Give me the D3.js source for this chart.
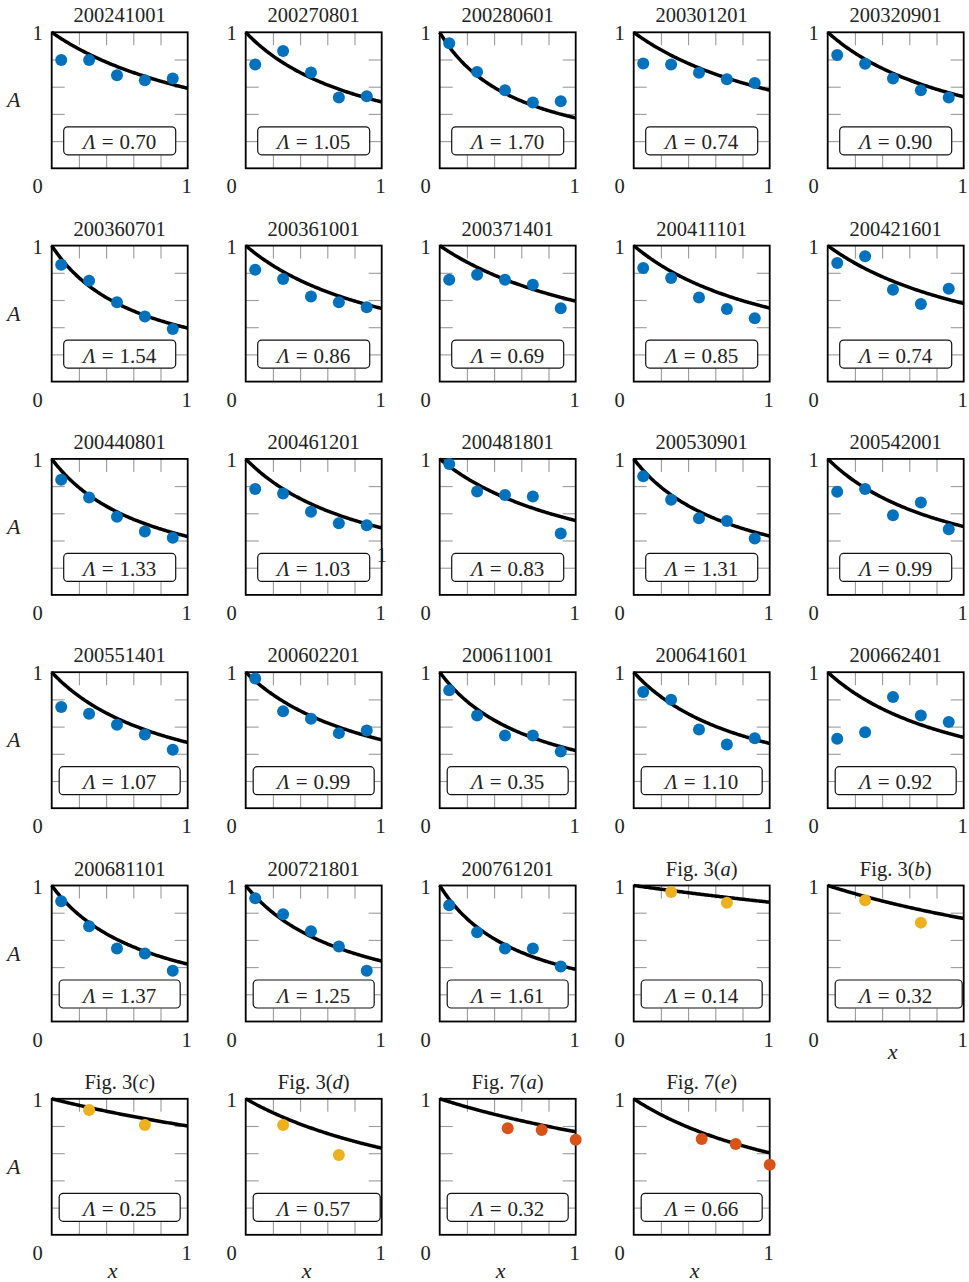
<!DOCTYPE html>
<html>
<head>
<meta charset="utf-8">
<script src="https://cdn.jsdelivr.net/npm/d3@7/dist/d3.min.js"></script>
<style>
  body { margin: 0; background: #fff; }
  text { font-family: 'Liberation Serif', 'DejaVu Serif', serif; fill: #222; }
</style>
</head>
<body>
<div id="chart"></div>
<script>
const titles = [
  '200241001', '200270801', '200280601', '200301201', '200320901',
  '200360701', '200361001', '200371401', '200411101', '200421601',
  '200440801', '200461201', '200481801', '200530901', '200542001',
  '200551401', '200602201', '200611001', '200641601', '200662401',
  '200681101', '200721801', '200761201', 'Fig. 3(a)', 'Fig. 3(b)',
  'Fig. 3(c)', 'Fig. 3(d)', 'Fig. 7(a)', 'Fig. 7(e)'
]

// value printed in each box
const lambdaLabel = [
  0.70, 1.05, 1.70, 0.74, 0.90,
  1.54, 0.86, 0.69, 0.85, 0.74,
  1.33, 1.03, 0.83, 1.31, 0.99,
  1.07, 0.99, 0.35, 1.10, 0.92,
  1.37, 1.25, 1.61, 0.14, 0.32,
  0.25, 0.57, 0.32, 0.66
]

// value the drawn curve uses (differs from the label in 200611001)
const lambdaFit = [
  0.70, 1.05, 1.70, 0.74, 0.90,
  1.54, 0.86, 0.69, 0.85, 0.74,
  1.33, 1.03, 0.83, 1.31, 0.99,
  1.07, 0.99, 1.36, 1.10, 0.92,
  1.37, 1.25, 1.61, 0.14, 0.32,
  0.25, 0.57, 0.32, 0.66
]

const sources = [
  ...Array(23).fill('field'),
  'fig3', 'fig3', 'fig3', 'fig3',
  'fig7', 'fig7'
]

const fieldX = [0.07, 0.275, 0.48, 0.685, 0.89]
const fig3X = [0.275, 0.685]
const fig7X = [0.5, 0.75, 1.0]

const pointA = [
  [0.796, 0.796, 0.685, 0.648, 0.660],
  [0.764, 0.862, 0.704, 0.520, 0.530],
  [0.919, 0.709, 0.574, 0.483, 0.493],
  [0.771, 0.764, 0.702, 0.655, 0.628],
  [0.833, 0.768, 0.660, 0.574, 0.520],
  [0.860, 0.741, 0.584, 0.478, 0.387],
  [0.823, 0.754, 0.626, 0.584, 0.547],
  [0.749, 0.786, 0.749, 0.712, 0.539],
  [0.835, 0.761, 0.618, 0.534, 0.466],
  [0.872, 0.921, 0.675, 0.571, 0.682],
  [0.847, 0.717, 0.574, 0.466, 0.421],
  [0.778, 0.746, 0.611, 0.527, 0.512],
  [0.963, 0.761, 0.734, 0.724, 0.451],
  [0.872, 0.700, 0.564, 0.544, 0.414],
  [0.759, 0.778, 0.586, 0.680, 0.483],
  [0.744, 0.695, 0.613, 0.542, 0.429],
  [0.953, 0.712, 0.658, 0.552, 0.571],
  [0.867, 0.682, 0.534, 0.534, 0.416],
  [0.855, 0.798, 0.579, 0.468, 0.515],
  [0.510, 0.559, 0.818, 0.682, 0.633],
  [0.884, 0.700, 0.537, 0.500, 0.374],
  [0.907, 0.788, 0.663, 0.552, 0.374],
  [0.855, 0.656, 0.537, 0.537, 0.404],
  [0.953, 0.874],
  [0.891, 0.727],
  [0.917, 0.808],
  [0.808, 0.586],
  [0.783, 0.771, 0.699],
  [0.705, 0.668, 0.515]
]

const axisTicks = [0, 0.2, 0.4, 0.6, 0.8, 1]

const WIDTH = 969
const HEIGHT = 1282
const COLS = 5
const LEFT0 = 51.7
const COL_STEP = 194
const TOP0 = 32.3
const ROW_STEP = 213.3
const SIZE = 136
const TICK = 13

const colorOf = { field: '#0072BD', fig3: '#EDB120', fig7: '#D95319' }
const xsOf = { field: fieldX, fig3: fig3X, fig7: fig7X }

const svg = d3.select('#chart').append('svg')
                               .attr('width', WIDTH)
                               .attr('height', HEIGHT)

const x = d3.scaleLinear().domain([0, 1]).range([0, SIZE])
const y = d3.scaleLinear().domain([0, 1]).range([SIZE, 0])
const inner = axisTicks.filter(t => t > 0 && t < 1)
const lastRow = Math.floor((titles.length - 1) / COLS)

const line = d3.line()
               .x(d => x(d[0]))
               .y(d => y(d[1]))

const cleanAxis = a => {
  a.select('.domain').remove()
  a.selectAll('line').attr('stroke', '#9a9a9a').attr('stroke-width', 1.1)
}

const writeTitle = (g, t) => {
  const text = g.append('text')
                .attr('x', SIZE / 2)
                .attr('y', -10)
                .attr('text-anchor', 'middle')
                .attr('font-size', 20.5)
  const m = t.match(/^(Fig\. \d\()(\w)(\))$/)
  if (m) {
    text.append('tspan').text(m[1])
    text.append('tspan').attr('font-style', 'italic').text(m[2])
    text.append('tspan').text(m[3])
  } else {
    text.text(t)
  }
}

titles.forEach((t, i) => {
  const col = i % COLS
  const row = Math.floor(i / COLS)
  const left = LEFT0 + col * COL_STEP
  const top = TOP0 + row * ROW_STEP
  const g = svg.append('g')
               .attr('class', 'panel')
               .attr('transform', `translate(${left},${top})`)

  writeTitle(g, t)

  g.append('g').call(d3.axisTop(x).tickValues(inner).tickSize(-TICK).tickFormat('')).call(cleanAxis)
  g.append('g').attr('transform', `translate(0,${SIZE})`)
     .call(d3.axisBottom(x).tickValues(inner).tickSize(-TICK).tickFormat('')).call(cleanAxis)
  g.append('g').call(d3.axisLeft(y).tickValues(inner).tickSize(-TICK).tickFormat('')).call(cleanAxis)
  g.append('g').attr('transform', `translate(${SIZE},0)`)
     .call(d3.axisRight(y).tickValues(inner).tickSize(-TICK).tickFormat('')).call(cleanAxis)

  // legend box
  const boxLeft = row < 3 ? 12 : 7.5
  const boxW = row < 3 ? 112 : (t === 'Fig. 3(b)' || t === 'Fig. 3(d)' ? 127 : 121)
  g.append('rect')
     .attr('x', boxLeft)
     .attr('y', 94.5)
     .attr('width', boxW)
     .attr('height', 28)
     .attr('rx', 4)
     .attr('fill', '#fff')
     .attr('stroke', '#111')
     .attr('stroke-width', 1.2)
  const lt = g.append('text')
                .attr('x', SIZE / 2)
                .attr('y', 117)
                .attr('text-anchor', 'middle')
                .attr('font-size', 21)
  lt.append('tspan').attr('font-style', 'italic').text('\u039B')
  lt.append('tspan').attr('dx', 6).text('=')
  lt.append('tspan').attr('dx', 6).text(lambdaLabel[i].toFixed(2))

  // fitted curve A = 1 / (1 + Λx)
  const lam = lambdaFit[i]
  const curve = d3.range(0, 1.0001, 0.01).map(v => [v, 1 / (1 + lam * v)])
  g.append('path')
     .attr('d', line(curve))
     .attr('fill', 'none')
     .attr('stroke', '#000')
     .attr('stroke-width', 3.5)

  g.append('rect')
     .attr('width', SIZE)
     .attr('height', SIZE)
     .attr('fill', 'none')
     .attr('stroke', '#000')
     .attr('stroke-width', 1.8)

  const xs = xsOf[sources[i]]
  g.selectAll('circle')
   .data(pointA[i].map((a, k) => [xs[k], a]))
   .enter()
     .append('circle')
     .attr('cx', d => x(d[0]))
     .attr('cy', d => y(d[1]))
     .attr('r', 6)
     .attr('fill', colorOf[sources[i]])

  // corner labels
  g.append('text')
     .attr('x', -14).attr('y', 8)
     .attr('text-anchor', 'middle').attr('font-size', 20.5)
     .text(axisTicks[axisTicks.length - 1])
  g.append('text')
     .attr('x', -14).attr('y', SIZE + 25)
     .attr('text-anchor', 'middle').attr('font-size', 20.5)
     .text(axisTicks[0])
  g.append('text')
     .attr('x', SIZE - 1).attr('y', SIZE + 25)
     .attr('text-anchor', 'middle').attr('font-size', 20.5)
     .text(axisTicks[axisTicks.length - 1])

  if (col === 0) {
    g.append('text')
       .attr('x', -38).attr('y', 75)
       .attr('text-anchor', 'middle')
       .attr('font-size', 22)
       .attr('font-style', 'italic')
       .text('A')
  }
  if (i + COLS >= titles.length) {
    const onLast = row === lastRow
    g.append('text')
       .attr('x', SIZE / 2 - (onLast ? 7 : 3))
       .attr('y', SIZE + (onLast ? 43 : 37))
       .attr('text-anchor', 'middle')
       .attr('font-size', 22)
       .attr('font-style', 'italic')
       .text('x')
  }
  // stray "1" printed beside 200461201 in the source figure
  if (t === '200461201') {
    g.append('text')
       .attr('x', SIZE).attr('y', 103)
       .attr('text-anchor', 'middle').attr('font-size', 20)
       .text('1')
  }
})
</script>
</body>
</html>
